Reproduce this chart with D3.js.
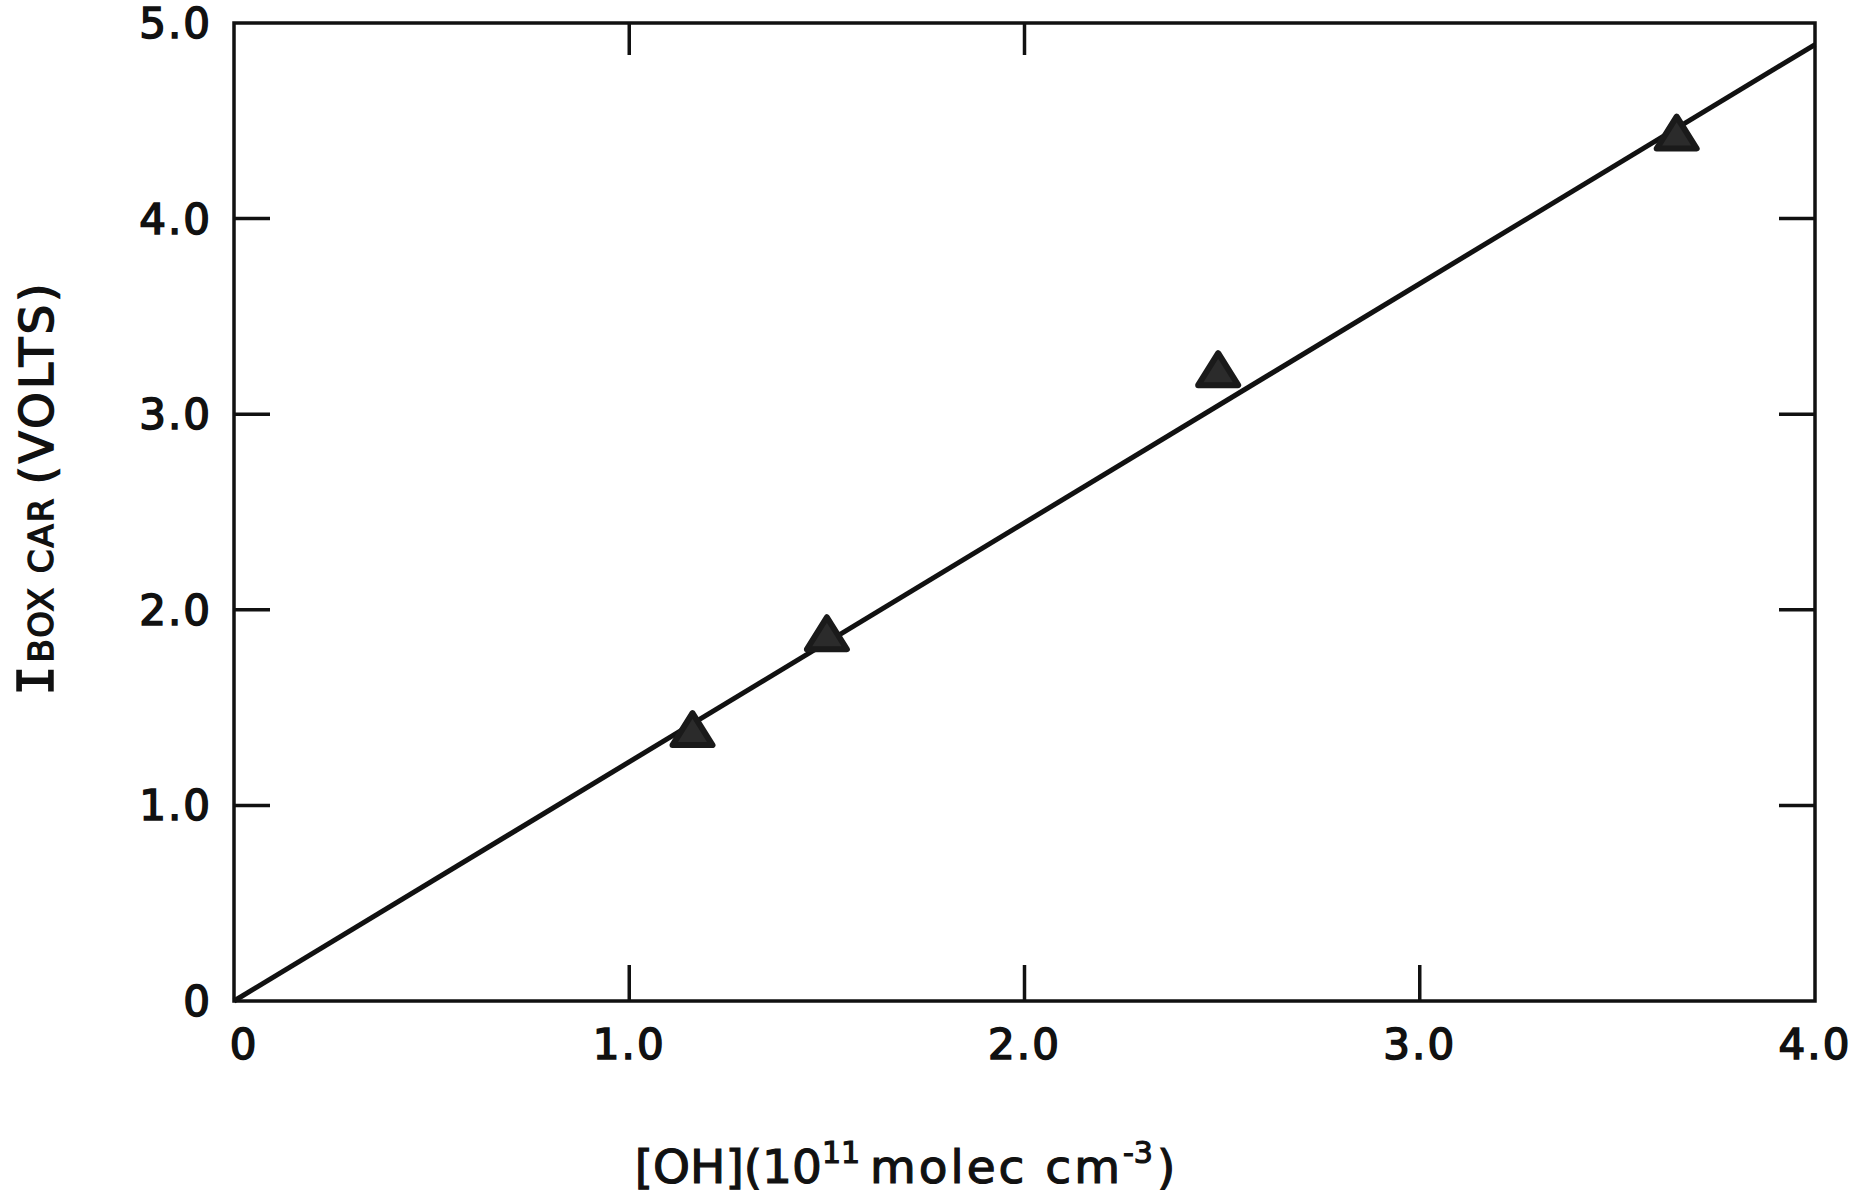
<!DOCTYPE html>
<html><head><meta charset="utf-8">
<script src="https://cdn.jsdelivr.net/npm/d3@7"></script>
<style>body{margin:0;background:#fff;} svg{display:block;}</style>
</head><body>
<svg id="c" width="1854" height="1193"></svg>
<script>
// data
const ohConc = [1.16, 1.50, 2.49, 3.65];      // [OH] (1e11 molec cm^-3)
const boxcarVolts = [1.39, 1.88, 3.23, 4.44]; // I boxcar (volts)
const fitX = [0, 4.0];
const fitY = [0, 4.89];
const xTickVals = [0, 1, 2, 3, 4];
const xTickLabels = ["0", "1.0", "2.0", "3.0", "4.0"];
const yTickVals = [0, 1, 2, 3, 4, 5];
const yTickLabels = ["0", "1.0", "2.0", "3.0", "4.0", "5.0"];

const svg = d3.select("#c");
const L = 234, R = 1815, T = 23, B = 1001;
const x = d3.scaleLinear().domain([0, 4]).range([L, R]);
const y = d3.scaleLinear().domain([0, 5]).range([B, T]);
const ink = "#111";
const font = "DejaVu Sans";

// frame
svg.append("rect").attr("x", L).attr("y", T).attr("width", R - L).attr("height", B - T)
  .attr("fill", "none").attr("stroke", ink).attr("stroke-width", 3.5);

// inner ticks
const tl = 36;
const inner = [1, 2, 3, 4];
svg.selectAll(".tl").data(inner).join("line")
  .attr("x1", L).attr("x2", L + tl).attr("y1", d => y(d)).attr("y2", d => y(d))
  .attr("stroke", ink).attr("stroke-width", 3.5);
svg.selectAll(".tr").data(inner).join("line")
  .attr("x1", R).attr("x2", R - tl).attr("y1", d => y(d)).attr("y2", d => y(d))
  .attr("stroke", ink).attr("stroke-width", 3.5);
svg.selectAll(".tb").data([1, 2, 3]).join("line")
  .attr("x1", d => x(d)).attr("x2", d => x(d)).attr("y1", B).attr("y2", B - tl)
  .attr("stroke", ink).attr("stroke-width", 3.5);
svg.selectAll(".tt").data([1, 2]).join("line")
  .attr("x1", d => x(d)).attr("x2", d => x(d)).attr("y1", T).attr("y2", T + tl - 4)
  .attr("stroke", ink).attr("stroke-width", 3.5);

// tick labels
svg.append("g").selectAll("text").data(yTickVals).join("text")
  .attr("x", 212).attr("y", d => y(d) + 15)
  .attr("text-anchor", "end").attr("font-family", font).attr("font-size", 42)
  .attr("letter-spacing", 2).attr("fill", ink).attr("stroke", ink).attr("stroke-width", 1.6)
  .text((d, i) => yTickLabels[i]);
svg.append("g").selectAll("text").data(xTickVals).join("text")
  .attr("x", d => x(d) + (d === 0 ? 10 : 0)).attr("y", 1059)
  .attr("text-anchor", "middle").attr("font-family", font).attr("font-size", 42)
  .attr("letter-spacing", 2).attr("fill", ink).attr("stroke", ink).attr("stroke-width", 1.6)
  .text((d, i) => xTickLabels[i]);

// fit line
svg.append("line")
  .attr("x1", x(fitX[0])).attr("y1", y(fitY[0]))
  .attr("x2", x(fitX[1])).attr("y2", y(fitY[1]))
  .attr("stroke", ink).attr("stroke-width", 5);

// triangles
const pts = ohConc.map((v, i) => [v, boxcarVolts[i]]);
const tw = 40, th = 32;
svg.append("g").selectAll("path").data(pts).join("path")
  .attr("d", d => {
    const cx = x(d[0]), cy = y(d[1]);
    return `M${cx},${cy - th / 2} L${cx + tw / 2},${cy + th / 2} L${cx - tw / 2},${cy + th / 2} Z`;
  })
  .attr("fill", "#2b2b2b").attr("stroke", "#1a1a1a").attr("stroke-width", 6)
  .attr("stroke-linejoin", "round");

// y title
const yt = svg.append("text")
  .attr("transform", "translate(53,488) rotate(-90)")
  .attr("text-anchor", "middle").attr("font-family", font).attr("fill", ink)
  .attr("stroke", ink).attr("stroke-width", 1.5);
yt.append("tspan").attr("font-size", 50).attr("font-family", "DejaVu Sans Mono").text("I");
yt.append("tspan").attr("font-size", 34).attr("dx", 3).attr("letter-spacing", 2).text("BOX CAR");
yt.append("tspan").attr("font-size", 47).attr("dx", 12).attr("letter-spacing", 3).text("(VOLTS)");

// x title
const xt = svg.append("text")
  .attr("x", 905).attr("y", 1183)
  .attr("text-anchor", "middle").attr("font-family", font).attr("fill", ink).attr("font-size", 47)
  .attr("stroke", ink).attr("stroke-width", 1.2);
xt.append("tspan").text("[OH](10");
xt.append("tspan").attr("font-size", 30).attr("dy", -20).text("11");
xt.append("tspan").attr("dy", 20).attr("dx", 10).attr("letter-spacing", 3).text("molec  cm");
xt.append("tspan").attr("font-size", 30).attr("dy", -20).text("-3");
xt.append("tspan").attr("dy", 20).attr("dx", 4).text(")");
</script>
</body></html>
